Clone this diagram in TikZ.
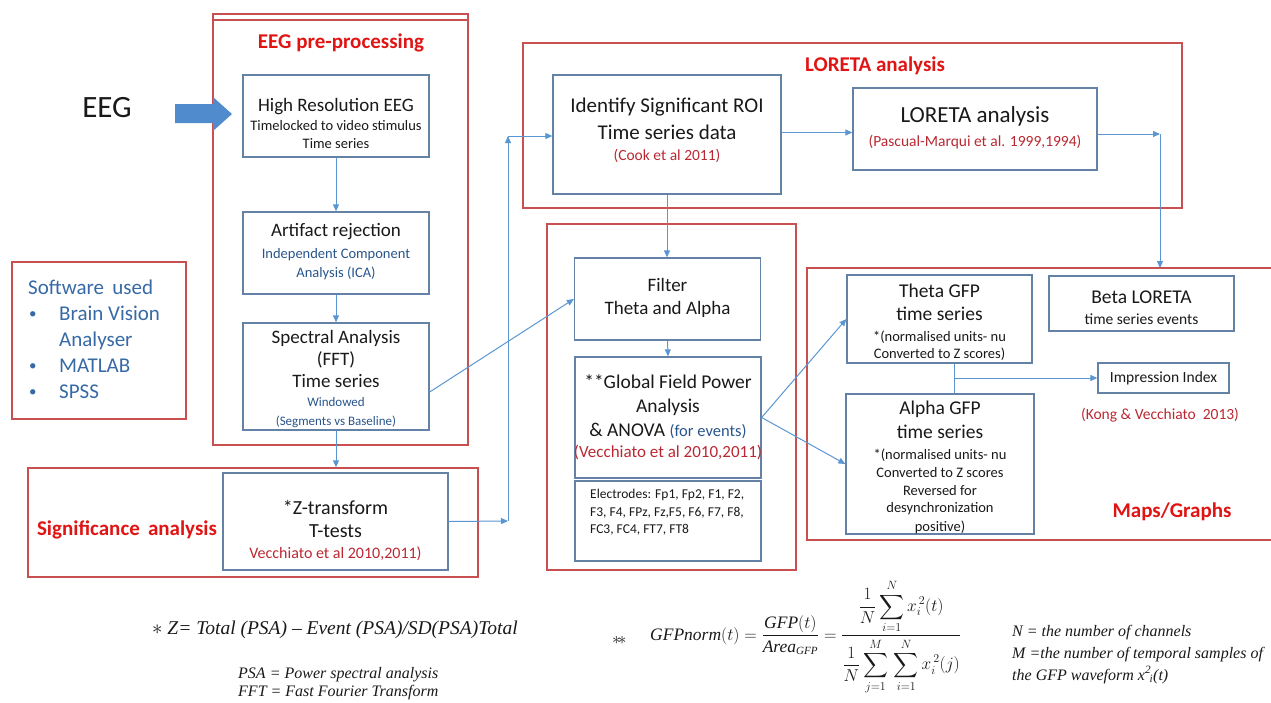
\documentclass[tikz,border=0pt]{standalone}
\usepackage{amsmath}
\usepackage[no-math]{fontspec}
\setmainfont{Carlito}
\newfontfamily\tnr{Liberation Serif}[Ligatures=TeX]
\usetikzlibrary{arrows.meta,calc}
\definecolor{framered}{RGB}{200,80,80}
\definecolor{boxblue}{RGB}{100,130,165}
\definecolor{arrowblue}{RGB}{90,150,210}
\definecolor{titlered}{RGB}{225,20,20}
\definecolor{citered}{RGB}{185,40,50}
\definecolor{txtblue}{RGB}{40,85,140}
\definecolor{swblue}{RGB}{55,105,165}
\definecolor{eegblue}{RGB}{80,140,205}
\definecolor{txt}{RGB}{25,25,25}
\newcommand\fsz[2]{\fontsize{#1}{#2}\selectfont}
\newcommand\tw[1]{\mbox{\tnr\itshape #1}}
\newcommand\tws[1]{\mbox{\tnr\itshape\fsz{11}{12}#1}}
\tikzset{
  frame/.style={draw=framered, line width=1.5pt, inner sep=0pt},
  box/.style={draw=boxblue, line width=1.3pt, inner sep=0pt},
  lbl/.style={align=center, text=txt, inner sep=0pt},
  conn/.style={draw=arrowblue, line width=1pt},
  arr/.style={conn, -{Triangle[length=7pt,width=6pt]}},
  title/.style={text=titlered, font=\bfseries\fsz{21}{24}},
  cite/.style={text=citered},
  swtxt/.style={anchor=base west, inner sep=0pt, text=swblue, font=\fsz{21}{26}},
  swbul/.style={anchor=base west, inner sep=0pt, text=swblue, font=\fsz{15}{26}},
  tnrtxt/.style={font=\tnr\itshape\fsz{16}{18}, anchor=base west, inner sep=0pt, text=txt},
}
\begin{document}
\begin{tikzpicture}[x=1pt,y=-1pt]
\useasboundingbox (0,0) rectangle (1271,702);
% frames
\node[frame, minimum width=255pt, minimum height=431pt] (preF) at (340.5,229.5) {};
\draw[draw=framered, line width=1.5pt] (213,20) -- (468,20);
\node[frame, minimum width=659pt, minimum height=165pt] (lorF) at (852.5,125.5) {};
\node[frame, minimum width=249pt, minimum height=346pt] (midF) at (671.5,397) {};
\node[frame, minimum width=450pt, minimum height=109pt] (sigF) at (253,522.5) {};
\node[frame, minimum width=174pt, minimum height=157pt] (swF) at (99,340.5) {};
\draw[draw=framered, line width=1.5pt] (1271,268) -- (807,268) -- (807,540) -- (1271,540);
\coordinate (mapsTop) at (1160,268);
% titles
\node[title] (t1) at (341,43) {EEG pre-processing};
\node[title] (t2) at (875,66) {LORETA analysis};
\node[title] (t3) at (127,530) {Significance\, analysis};
\node[title] (t4) at (1172,512) {Maps/Graphs};
% EEG
\node[font=\fsz{31}{36}, text=txt] (eeg) at (107,108) {EEG};
\fill[eegblue] (175,104) -- (213,104) -- (213,97) -- (232,114) -- (213,131) -- (213,123) -- (175,123) -- cycle;
% software
\node[swtxt] (sw1) at (28,294) {Software\, used};
\node[swbul] (b1) at (29,318) {\textbullet};
\node[swtxt] (sw2) at (59,320) {Brain Vision};
\node[swtxt] (sw3) at (59,346) {Analyser};
\node[swbul] (b2) at (29,370) {\textbullet};
\node[swtxt] (sw4) at (59,372) {MATLAB};
\node[swbul] (b3) at (29,396) {\textbullet};
\node[swtxt] (sw5) at (59,398) {SPSS};
% boxes
\node[box, minimum width=186pt, minimum height=82pt] (hires) at (336,116) {};
\node[lbl, font=\fsz{19}{20}] (hires-t) at (336,123)
  {High Resolution EEG\\[-1pt]{\fsz{14.5}{17}Timelocked to video stimulus}\\[-2pt]{\fsz{14.5}{17}Time series}};
\node[box, minimum width=186pt, minimum height=82pt] (artifact) at (336,253) {};
\node[lbl, font=\fsz{19}{22}] (artifact-t) at (336,252)
  {Artifact rejection\\[0pt]{\color{txtblue}\fsz{14.5}{17}Independent Component}\\[-3pt]{\color{txtblue}\fsz{14.5}{17}Analysis (ICA)}};
\node[box, minimum width=186pt, minimum height=107pt] (spectral) at (336,376.5) {};
\node[lbl, font=\fsz{19}{22}] (spectral-t) at (336,379)
  {Spectral Analysis\\ (FFT)\\ Time series\\[-3pt]{\color{txtblue}\fsz{13}{16}Windowed}\\[-3pt]{\color{txtblue}\fsz{13}{16}(Segments vs Baseline)}};
\node[box, minimum width=225pt, minimum height=97pt] (ztrans) at (335.5,521.5) {};
\node[lbl, font=\fsz{20}{23}] (ztrans-t) at (335.5,530)
  {*Z-transform\\ T-tests\\[-2pt]{\color{citered}\fsz{16}{19}Vecchiato et al 2010,2011)}};
\node[box, minimum width=228pt, minimum height=119pt] (roi) at (667,134.5) {};
\node[lbl, font=\fsz{21}{27}] (roi-t) at (667,130)
  {Identify Significant ROI\\ Time series data\\[-6pt]{\color{citered}\fsz{15.5}{18}(Cook et al 2011)}};
\node[box, minimum width=244pt, minimum height=82pt] (loreta) at (975,129) {};
\node[lbl, font=\fsz{23}{26}] (loreta-t) at (975,128)
  {LORETA analysis\\[-2pt]{\color{citered}\fsz{15.5}{18}(Pascual-Marqui et al. 1999,1994)}};
\node[box, minimum width=186pt, minimum height=82pt] (filter) at (667.5,299) {};
\node[lbl, font=\fsz{19}{23}] (filter-t) at (667.5,298) {Filter\\ Theta and Alpha};
\node[box, minimum width=186pt, minimum height=121pt] (gfp) at (668,417.5) {};
\node[lbl, font=\fsz{19.5}{24}] (gfp-t) at (668,417)
  {**Global Field Power\\ Analysis\\ \& ANOVA {\color{txtblue}\fsz{16.5}{20}(for events)}\\[-3pt]{\color{citered}\fsz{17}{20}(Vecchiato et al 2010,2011)}};
\node[box, minimum width=186pt, minimum height=80pt] (elec) at (668,521) {};
\node[anchor=north west, align=left, inner sep=0pt, text=txt, font=\fsz{13.5}{17.5}] (electxt) at (590,489)
  {Electrodes: Fp1, Fp2, F1, F2,\\ F3, F4, FPz, Fz,F5, F6, F7, F8,\\ FC3, FC4, FT7, FT8};
\node[box, minimum width=185pt, minimum height=88pt] (theta) at (939.5,319) {};
\node[lbl, font=\fsz{19.5}{17}] (theta-t) at (939.5,322)
  {Theta GFP\\[6pt] time series\\[4pt]{\fsz{14.5}{17}*(normalised units- nu}\\{\fsz{14.5}{17}Converted to Z scores)}};
\node[box, minimum width=188pt, minimum height=140pt] (alpha) at (940,464) {};
\node[lbl, font=\fsz{19.5}{18}] (alpha-t) at (940,467)
  {Alpha GFP\\[6pt] time series\\[3pt]{\fsz{14.5}{17}*(normalised units- nu}\\{\fsz{14.5}{17}Converted to Z scores}\\{\fsz{14.5}{17}Reversed for}\\[-1pt]{\fsz{14.5}{17}desynchronization}\\[1pt]{\fsz{14.5}{17}positive)}};
\node[box, minimum width=185pt, minimum height=55pt] (beta) at (1141.5,303.5) {};
\node[lbl, font=\fsz{19.5}{22}] (beta-t) at (1141.5,308)
  {Beta LORETA\\[-1pt]{\fsz{15.5}{18}time series events}};
\node[box, minimum width=131pt, minimum height=30pt] (impr) at (1163.5,378) {};
\node[lbl, font=\fsz{15.5}{18}] (impr-t) at (1163.5,378) {Impression Index};
\node[cite, font=\fsz{15.5}{18}] (kong) at (1160,415) {(Kong \& Vecchiato~~2013)};
% connectors
\draw[arr] (hires.south) -- (artifact.north);
\draw[arr] (artifact.south) -- (spectral.north);
\draw[arr] (spectral.south) -- (spectral.south |- sigF.north);
\draw[arr] ([yshift=-15.5pt]spectral.east) -- (filter.west);
\coordinate (zc) at (508,521);
\coordinate (zup) at (508,136);
\draw[arr] (ztrans.east) -- (zc);
\draw[arr] (zc) -- (zup);
\draw[arr] (zup) -- (zup -| roi.west);
\draw[arr] ([yshift=2pt]roi.east) -- ([yshift=2pt]roi.east -| loreta.west);
\coordinate (lc) at (1160,134);
\draw[arr] ([yshift=-5pt]loreta.east) -- (lc);
\draw[arr] (lc) -- (mapsTop);
\draw[arr] (roi.south) -- (roi.south |- filter.north);
\draw[arr] (filter.south) -- (gfp.north);
\draw[arr] (gfp.east) -- (theta.west);
\draw[arr] (gfp.east) -- (alpha.west);
\coordinate (tj) at (954,378);
\draw[conn] (tj |- theta.south) -- (tj |- alpha.north);
\draw[arr] (tj) -- (tj -| impr.west);
% bottom formulas
\node[anchor=base west, inner sep=0pt, font=\tnr\itshape\fsz{19.5}{22}, text=txt] (zf) at (152,634)
  {{\upshape\fsz{22}{22}$\ast$} Z= Total (PSA) – Event (PSA)/SD(PSA)Total};
\node[tnrtxt] (psa) at (238,678) {PSA = Power spectral analysis};
\node[tnrtxt] (fft) at (238,696) {FFT = Fast Fourier Transform};
\node[anchor=west, inner sep=0pt, font=\fsz{18}{20}, text=txt] (star2) at (612,640) {$\ast\!\ast$};
\node[anchor=west, inner sep=0pt, font=\fsz{17.5}{20}, text=txt] (gfpf) at (650,637)
  {$\displaystyle \tw{GFPnorm}(t)=\frac{\tw{GFP}(t)}{\tw{Area}_{\tws{GFP}}}=\frac{\dfrac{1}{N}\displaystyle\sum_{i=1}^{N}x_i^{\,2}(t)}{\dfrac{1}{N}\displaystyle\sum_{j=1}^{M}\,\sum_{i=1}^{N}x_i^{\,2}(j)}$};
\node[tnrtxt] (n1) at (1012,636) {N = the number of channels};
\node[tnrtxt] (n2) at (1012,658) {M =the number of temporal samples of};
\node[tnrtxt] (n3) at (1012,680) {the GFP waveform x\textsuperscript{2}\kern-0.1em\textsubscript{i}(t)};
\end{tikzpicture}
\end{document}
